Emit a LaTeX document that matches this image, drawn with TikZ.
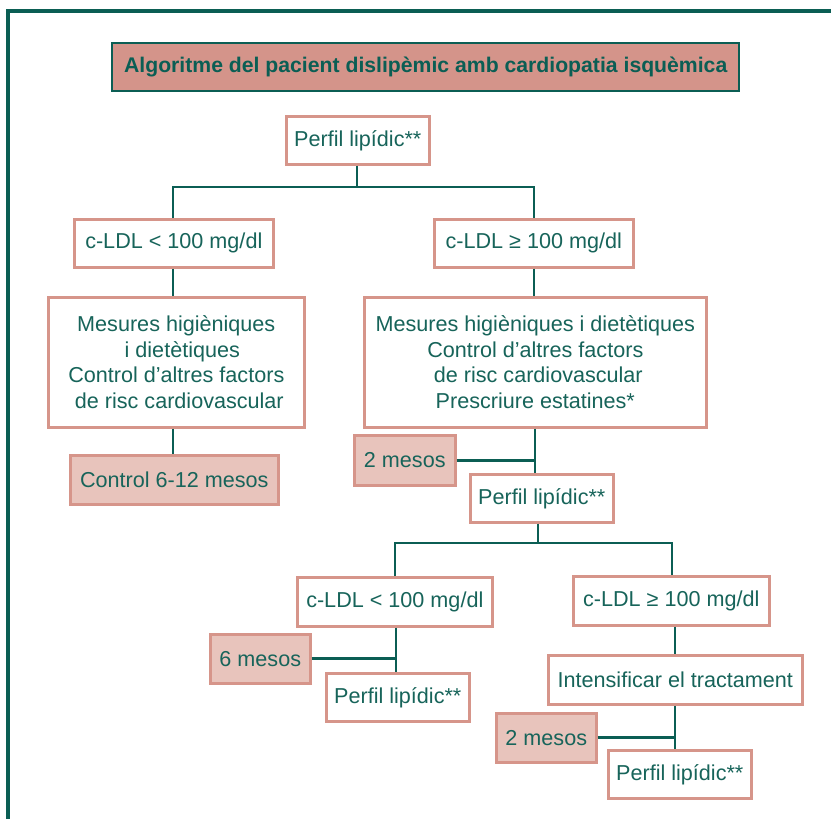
\documentclass[tikz,border=0pt]{standalone}
\usepackage{fontspec}
\setmainfont{Liberation Sans}
\definecolor{teal}{HTML}{0B5E54}
\definecolor{tealtext}{HTML}{17645A}
\definecolor{salmon}{HTML}{D6958A}
\definecolor{titlefill}{HTML}{D4948A}
\definecolor{lightfill}{HTML}{E8C4BC}
\tikzset{
  box/.style={draw=salmon, line width=1.3pt, fill=white, text=tealtext,
    align=center, inner sep=0pt, anchor=north west,
    font=\fontsize{10.8pt}{12.8pt}\selectfont},
  timebox/.style={box, fill=lightfill},
  titlebox/.style={draw=teal, line width=1.2pt, fill=titlefill, text=teal,
    align=center, inner sep=0pt, anchor=north west,
    font=\fontsize{10.6pt}{12.8pt}\selectfont\bfseries},
  link/.style={draw=teal, line width=1.4pt},
  frame/.style={draw=teal, line width=1.6pt}
}
\begin{document}
\begin{tikzpicture}[x=0.5pt,y=-0.5pt]
\useasboundingbox (0,0) rectangle (831,819);
% outer frame (top and left edges)
\coordinate (fc) at (8,11);
\draw[frame] (8,819) -- (fc) -- (831,11);

% title
\node[titlebox, minimum width=313.5pt, minimum height=24pt] (title) at (111,42)
  {Algoritme del pacient dislipèmic amb cardiopatia isquèmica};

% first level
\node[box, minimum width=71.5pt, minimum height=24pt] (perf1) at (285,115) {Perfil lipídic**};
\node[box, minimum width=99.5pt, minimum height=24pt] (ldlL1) at (73,218) {c-LDL < 100 mg/dl};
\node[box, minimum width=99.5pt, minimum height=24pt] (ldlR1) at (433,218) {c-LDL ≥ 100 mg/dl};
\node[box, minimum width=128pt, minimum height=65pt] (mesL) at (47,296)
  {Mesures higièniques\\ \ \ i dietètiques\\ Control d’altres factors\\ \ de risc cardiovascular};
\node[box, minimum width=171pt, minimum height=65pt] (mesR) at (363,296)
  {Mesures higièniques i dietètiques\\ Control d’altres factors\\ \ de risc cardiovascular\\ Prescriure estatines*};
\node[timebox, minimum width=104pt, minimum height=24.5pt] (ctrl) at (69,454) {Control 6-12 mesos};

% second level
\node[timebox, minimum width=50.5pt, minimum height=25pt] (mesA) at (353,434) {2 mesos};
\node[box, minimum width=71.5pt, minimum height=24pt] (perf2) at (469,473) {Perfil lipídic**};
\node[box, minimum width=97.5pt, minimum height=24.5pt] (ldlL2) at (296,576) {c-LDL < 100 mg/dl};
\node[box, minimum width=98pt, minimum height=24.5pt] (ldlR2) at (572,575) {c-LDL ≥ 100 mg/dl};
\node[timebox, minimum width=50pt, minimum height=24.5pt] (mesB) at (209,633) {6 mesos};
\node[box, minimum width=71.5pt, minimum height=24pt] (perf3) at (325,672) {Perfil lipídic**};
\node[box, minimum width=127pt, minimum height=24.5pt] (intens) at (547,654) {Intensificar el tractament};
\node[timebox, minimum width=50pt, minimum height=24.5pt] (mesC) at (495,712) {2 mesos};
\node[box, minimum width=71.5pt, minimum height=24pt] (perf4) at (607,749) {Perfil lipídic**};

% connector guide positions
\coordinate (s1) at (357,187);
\coordinate (cL1) at (173,187);
\coordinate (cR1) at (534,187);
\coordinate (cR2) at (535,459);
\coordinate (s2) at (538,543);
\coordinate (cL3) at (395,543);
\coordinate (cR3) at (672,543);
\coordinate (cL4) at (396,654);
\coordinate (cR4) at (675,732);

% connectors, first split
\draw[link] (perf1.south -| s1) -- (s1);
\draw[link] (ldlL1.north -| cL1) -- (cL1) -- (cR1) -- (ldlR1.north -| cR1);
\draw[link] (ldlL1.south -| cL1) -- (mesL.north -| cL1);
\draw[link] (mesL.south -| cL1) -- (ctrl.north -| cL1);
\draw[link] (ldlR1.south -| cR1) -- (mesR.north -| cR1);
\draw[link] (mesR.south -| cR2) -- (perf2.north -| cR2);
\draw[link] (mesA.east) -- (mesA.east -| cR2);

% connectors, second split
\draw[link] (perf2.south -| s2) -- (s2);
\draw[link] (ldlL2.north -| cL3) -- (cL3) -- (cR3) -- (ldlR2.north -| cR3);
\draw[link] (ldlL2.south -| cL4) -- (perf3.north -| cL4);
\draw[link] (mesB.east) -- (mesB.east -| cL4);
\draw[link] (ldlR2.south -| cR4) -- (intens.north -| cR4);
\draw[link] (intens.south -| cR4) -- (perf4.north -| cR4);
\draw[link] (mesC.east) -- (mesC.east -| cR4);
\end{tikzpicture}
\end{document}
